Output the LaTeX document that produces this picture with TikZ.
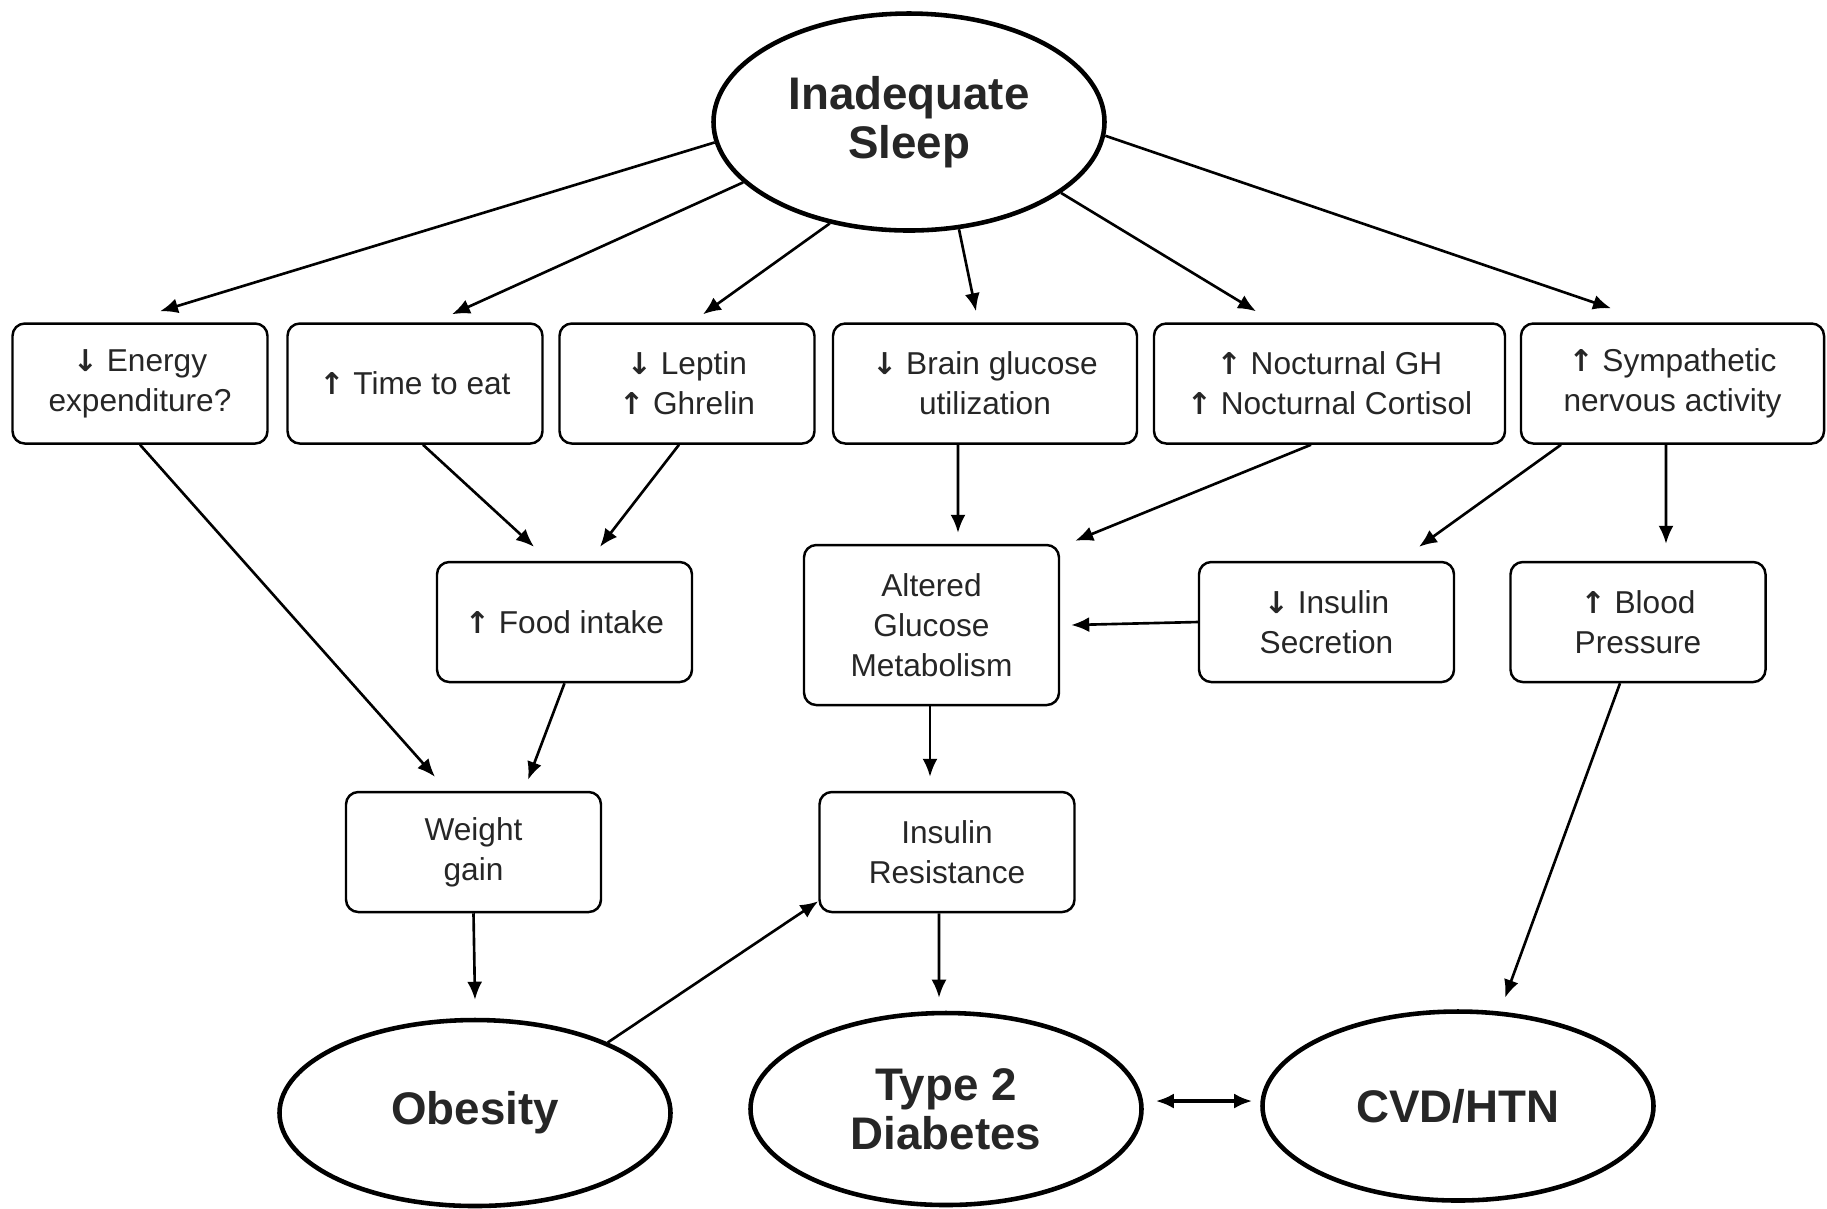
\documentclass[tikz,border=0pt]{standalone}
\usepackage{fontspec}
\setmainfont{Liberation Sans}
\newfontfamily\arrowfont[Scale=0.95]{DejaVu Sans}
\newcommand{\incr}{{\arrowfont\bfseries ↑}}
\newcommand{\decr}{{\arrowfont\bfseries ↓}}
\usetikzlibrary{arrows.meta,shapes.geometric}

\begin{document}
\begin{tikzpicture}[
    box/.style={draw, rounded corners=3.5pt, line width=0.7pt, align=center,
      inner sep=0pt, minimum width=2.55cm, minimum height=1.2cm,
      text=black!85, font=\fontsize{9}{11.3}\selectfont},
    oval/.style={draw, ellipse, line width=1.3pt, align=center, inner sep=0pt,
      minimum width=3.91cm, text=black!85,
      font=\fontsize{13}{14}\selectfont\bfseries},
    arr/.style={-{Latex[length=1.8mm,width=1.5mm]}, line width=0.75pt},
    dblarr/.style={{Latex[length=1.8mm,width=1.5mm]}-{Latex[length=1.8mm,width=1.5mm]}, line width=1pt}
  ]
  \useasboundingbox (0,0) rectangle (18.27,-12.08);

  % Cause
  \node[oval, minimum height=2.17cm] (sleep) at (9.09,-1.22) {Inadequate\\Sleep};

  % First row
  \node[box] (energy) at (1.40,-3.835) {\decr\ Energy\\expenditure?};
  \node[box] (time) at (4.15,-3.835) {\incr\ Time to eat};
  \node[box] (leptin) at (6.87,-3.835) {\decr\ Leptin\\\incr\ Ghrelin};
  \node[box, minimum width=3.04cm] (brain) at (9.85,-3.835)
    {\decr\ Brain glucose\\utilization};
  \node[box, minimum width=3.51cm] (noct) at (13.295,-3.835)
    {\incr\ Nocturnal GH\\\incr\ Nocturnal Cortisol};
  \node[box, minimum width=3.03cm] (symp) at (16.725,-3.835)
    {\incr\ Sympathetic\\nervous activity};

  % Second row
  \node[box] (food) at (5.645,-6.22) {\incr\ Food intake};
  \node[box, minimum height=1.6cm] (altered) at (9.315,-6.25)
    {Altered\\Glucose\\Metabolism};
  \node[box] (inssec) at (13.265,-6.22) {\decr\ Insulin\\Secretion};
  \node[box] (blood) at (16.38,-6.22) {\incr\ Blood\\Pressure};

  % Third row
  \node[box] (weight) at (4.735,-8.52) {Weight\\gain};
  \node[box] (insres) at (9.47,-8.52) {Insulin\\Resistance};

  % Outcomes
  \node[oval, minimum height=1.86cm] (obesity) at (4.75,-11.13) {Obesity};
  \node[oval, minimum height=1.92cm] (t2d) at (9.46,-11.09) {Type 2\\Diabetes};
  \node[oval, minimum height=1.89cm] (cvd) at (14.58,-11.06) {CVD/HTN};

  % Sleep to first row
  \draw[arr] (sleep.186) -- ([shift={(0.20,0.11)}]energy.north);
  \draw[arr] (sleep.200) -- ([shift={(0.37,0.08)}]time.north);
  \draw[arr] (sleep.232) -- ([shift={(0.16,0.08)}]leptin.north);
  \draw[arr] (sleep.295) -- ([shift={(-0.09,0.11)}]brain.north);
  \draw[arr] (sleep.335) -- ([shift={(-0.735,0.11)}]noct.north);
  \draw[arr] (sleep.356) -- ([shift={(-0.615,0.14)}]symp.north);

  % First row to second row
  \draw[arr] (energy.south) -- ([shift={(-0.385,0.14)}]weight.north);
  \draw[arr] ([xshift=0.08cm]time.south) -- ([shift={(-0.305,0.14)}]food.north);
  \draw[arr] ([xshift=-0.08cm]leptin.south) -- ([shift={(0.355,0.14)}]food.north);
  \draw[arr] ([xshift=-0.27cm]brain.south) -- ([shift={(0.265,0.11)}]altered.north);
  \draw[arr] ([xshift=-0.185cm]noct.south) -- ([shift={(0.15,0.03)}]altered.north east);
  \draw[arr] ([xshift=-1.115cm]symp.south) -- ([shift={(0.925,0.14)}]inssec.north);
  \draw[arr] ([xshift=-0.065cm]symp.south) -- ([shift={(0.28,0.17)}]blood.north);
  \draw[arr] (inssec.west) -- ([xshift=0.11cm]altered.east);

  % Down to the outcomes
  \draw[arr] (food.south) -- ([shift={(0.545,0.11)}]weight.north);
  \draw[arr] ([xshift=-0.015cm]altered.south) -- ([shift={(-0.17,0.14)}]insres.north);
  \draw[arr] (weight.south) -- ([shift={(0,0.18)}]obesity.north);
  \draw[arr] (obesity.28) -- ([yshift=0.12cm]insres.south west);
  \draw[arr] ([xshift=-0.08cm]insres.south) -- ([shift={(-0.07,0.13)}]t2d.north);
  \draw[arr] ([xshift=-0.18cm]blood.south) -- ([shift={(0.47,0.115)}]cvd.north);
  \draw[dblarr] ([shift={(0.12,0.08)}]t2d.east) -- ([shift={(-0.08,0.05)}]cvd.west);

\end{tikzpicture}
\end{document}
